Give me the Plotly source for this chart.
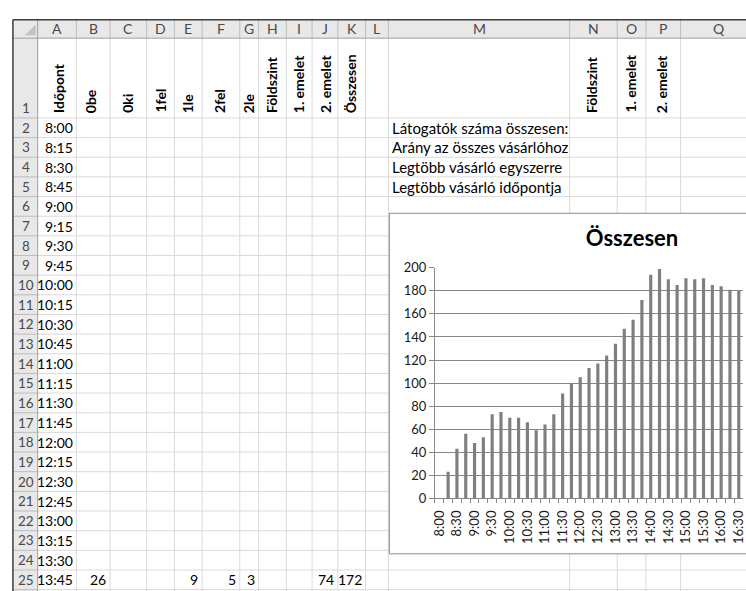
import plotly.graph_objects as go

# ---------------- data ----------------
times = ["8:00", "8:15", "8:30", "8:45", "9:00", "9:15", "9:30", "9:45",
         "10:00", "10:15", "10:30", "10:45", "11:00", "11:15", "11:30", "11:45",
         "12:00", "12:15", "12:30", "12:45", "13:00", "13:15", "13:30", "13:45",
         "14:00", "14:15", "14:30", "14:45", "15:00", "15:15", "15:30", "15:45",
         "16:00", "16:15", "16:30"]
totals = [0, 23, 43, 56, 48, 53, 73, 75, 70, 70, 66, 59, 64, 73, 91, 100,
          105, 113, 117, 124, 134, 147, 155, 172, 194, 199, 190, 185, 191, 190,
          191, 185, 184, 181, 180]
y_ticks = list(range(0, 201, 20))
chart_title = "Összesen"

col_letters = ["A", "B", "C", "D", "E", "F", "G", "H", "I", "J", "K", "L",
               "M", "N", "O", "P", "Q"]
sheet_headers = ["Időpont", "0be", "0ki", "1fel", "1le", "2fel", "2le",
                 "Földszint", "1. emelet", "2. emelet", "Összesen"]
summary_labels = ["Látogatók száma összesen:", "Arány az összes vásárlóhoz",
                  "Legtöbb vásárló egyszerre", "Legtöbb vásárló időpontja"]
summary_headers = ["Földszint", "1. emelet", "2. emelet"]
row25_cols = ["B", "E", "F", "G", "J", "K"]
row25_vals = ["26", "9", "5", "3", "74", "172"]

# ---------------- layout helpers ----------------
W, H = 746, 591
FONT = "Lato"


def px(x):
    return x / W


def py(y):
    return 1 - y / H


col_edges = [34, 73, 107, 144, 172, 200, 238, 257, 285, 311, 337, 365, 388,
             571, 619, 648, 683, 760]
col_idx = {c: i for i, c in enumerate(col_letters)}
HEAD_T, HEAD_B = 12, 31
ROW1_B = 113
ROW_H = 20.2
N_ROWS = 25


def row_top(r):
    return HEAD_B if r == 1 else ROW1_B + (r - 2) * ROW_H


def row_bot(r):
    return ROW1_B if r == 1 else row_top(r) + ROW_H


shapes = []
ann = []

GRID = "#d9d9d9"
HDR_FILL = "#e8e8e8"
HDR_LINE = "#bdbdbd"


def pline(x0, y0, x1, y1, color, width=1):
    shapes.append(dict(type="line", xref="paper", yref="paper",
                       x0=px(x0), x1=px(x1), y0=py(y0), y1=py(y1),
                       line=dict(color=color, width=width), layer="below"))


def ptext(x, y, text, size=15, color="black", xanchor="center",
          yanchor="middle", angle=0):
    ann.append(dict(x=px(x), y=py(y), xref="paper", yref="paper", text=text,
                    showarrow=False, xanchor=xanchor, yanchor=yanchor,
                    textangle=angle,
                    font=dict(family=FONT, size=size, color=color)))


# header row and row-header column backgrounds
shapes.append(dict(type="rect", xref="paper", yref="paper",
                   x0=px(9), x1=px(760), y0=py(HEAD_T), y1=py(HEAD_B),
                   fillcolor=HDR_FILL, line=dict(width=0), layer="below"))
shapes.append(dict(type="rect", xref="paper", yref="paper",
                   x0=px(9), x1=px(34), y0=py(HEAD_T), y1=py(600),
                   fillcolor=HDR_FILL, line=dict(width=0), layer="below"))
# corner triangle
shapes.append(dict(type="path", xref="paper", yref="paper",
                   path=f"M {px(32)} {py(17)} L {px(32)} {py(28)} L {px(21)} {py(28)} Z",
                   fillcolor="#c2c2c2", line=dict(width=0), layer="below"))

# horizontal grid lines of the sheet
for r in range(1, N_ROWS + 1):
    yb = row_bot(r)
    pline(34, yb, 760, yb, GRID)
    pline(9, yb, 34, yb, HDR_LINE)
# vertical grid lines
for x in col_edges[1:]:
    pline(x, HEAD_B, x, 600, GRID)
    pline(x, HEAD_T, x, HEAD_B, HDR_LINE)
# header borders
pline(9, HEAD_B, 760, HEAD_B, "#9e9e9e")
pline(34, HEAD_T, 34, 600, "#9e9e9e")
pline(9, HEAD_T, 760, HEAD_T, "#3c3c3c", 1.5)
pline(9, HEAD_T, 9, 600, "#3c3c3c", 1.5)

# chart box
shapes.append(dict(type="rect", xref="paper", yref="paper",
                   x0=px(389), x1=px(900), y0=py(211), y1=py(561),
                   fillcolor="white", line=dict(color="#8a8a8a", width=1),
                   layer="below"))

# column letters
for i, c in enumerate(col_letters):
    cx = (col_edges[i] + col_edges[i + 1]) / 2
    ptext(cx, (HEAD_T + HEAD_B) / 2, c, size=14, color="#4a4a4a")
# row numbers
for r in range(1, N_ROWS + 1):
    yc = (row_top(r) + row_bot(r)) / 2 if r > 1 else row_bot(r) - 10
    ptext(22, yc, str(r), size=13.5, color="#4a4a4a")
# rotated headers in row 1
head_shift = [1, -3, -1, -1, -1, -2, -1, -1, -1, 0, -1]
for i, h in enumerate(sheet_headers):
    cx = (col_edges[i] + col_edges[i + 1]) / 2
    ptext(cx + head_shift[i], 110, f"<b>{h}</b>", size=14, yanchor="bottom",
          angle=-90)
for j, h in enumerate(summary_headers):
    k = col_idx["N"] + j
    cx = (col_edges[k] + col_edges[k + 1]) / 2
    ptext(cx - 2, 110, f"<b>{h}</b>", size=14, yanchor="bottom", angle=-90)
# time values in column A (rows 2..25)
for r in range(2, N_ROWS + 1):
    ptext(col_edges[1] - 1, row_top(r) + ROW_H / 2, times[r - 2], size=14,
          xanchor="right")
# summary labels in column M
for k, lab in enumerate(summary_labels):
    ptext(col_edges[col_idx["M"]] + 2, row_top(2 + k) + ROW_H / 2, lab,
          xanchor="left")
# visible values of row 25
for c, v in zip(row25_cols, row25_vals):
    k = col_idx[c]
    ptext(col_edges[k + 1] - 2, row_top(25) + ROW_H / 2, v, size=14,
          xanchor="right")

# ---------------- chart ----------------
idx = list(range(len(times)))
fig = go.Figure(go.Bar(x=idx, y=totals,
                       marker=dict(color="#7f7f7f", line=dict(width=0)),
                       width=0.36, hovertext=times))

AX = "#878787"
fig.update_layout(
    width=W, height=H, autosize=False,
    margin=dict(l=0, r=0, t=0, b=0),
    paper_bgcolor="white", plot_bgcolor="white",
    showlegend=False,
    font=dict(family=FONT, color="black"),
    title=dict(text=f"<b>{chart_title}</b>", x=px(634), y=py(237),
               xref="paper", yref="paper", xanchor="center", yanchor="middle",
               font=dict(family=FONT, size=22, color="black")),
    xaxis=dict(domain=[px(435), 1], range=[-0.5, len(times) - 1 + 0.48],
               tickmode="array", tickvals=idx[::2], ticktext=times[::2],
               tickangle=-90, ticks="", showgrid=False, zeroline=False,
               showline=True, linecolor=AX, linewidth=1,
               minor=dict(tick0=-0.5, dtick=1, ticks="outside", ticklen=4,
                          tickcolor=AX, showgrid=False),
               tickfont=dict(family=FONT, size=13, color="#1a1a1a"),
               ticklabelstandoff=6, ticklabeloverflow="allow"),
    yaxis=dict(domain=[py(504), py(267)], range=[0, 200],
               tickmode="array", tickvals=y_ticks,
               showgrid=True, gridcolor=AX, gridwidth=1, zeroline=False,
               showline=True, linecolor=AX, linewidth=1,
               ticks="outside", ticklen=5, tickcolor=AX,
               tickfont=dict(family=FONT, size=13, color="#1a1a1a")),
    shapes=shapes,
    annotations=ann,
)

fig.write_html("out.html", config={"displayModeBar": False},
               post_script="document.body.style.margin='0';document.body.style.padding='0';")
